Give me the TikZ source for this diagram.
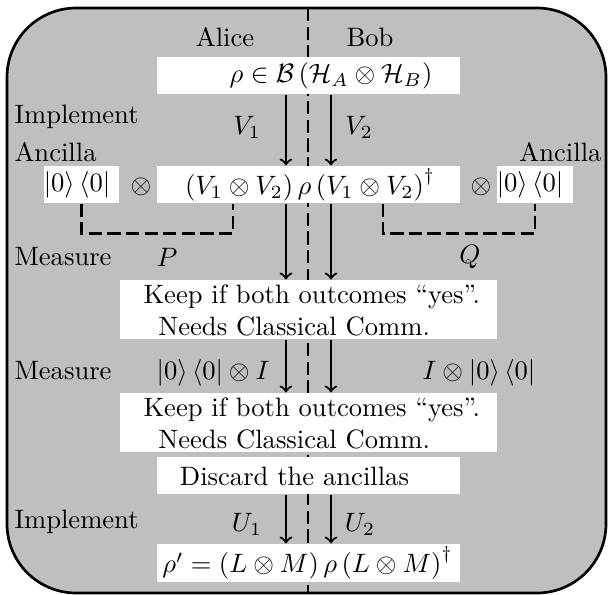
\documentclass[tikz,border=0pt]{standalone}
\def\pxu{0.376pt}
\tikzset{
  whitebox/.style={fill=white, draw=none, inner sep=0pt},
  lbl/.style={inner sep=0pt},
  arr/.style={->, line width=0.8pt},
  dsh/.style={line width=0.8pt, dash pattern=on 5pt off 2pt},
}
\newcommand\ketbra{\left|0\right\rangle\left\langle 0\right|}
\begin{document}
\begin{tikzpicture}[x=\pxu, y=-\pxu]
\useasboundingbox (0,0) rectangle (608,595);
% frame
\draw[fill=black!25, line width=1pt, rounded corners=26pt] (7,8) rectangle (606,593);
% coordinates
\coordinate (top) at (308,8);
\coordinate (bot) at (308,593);
\coordinate (la) at (286,0);
\coordinate (ra) at (331,0);
\coordinate (lb) at (233,0);
\coordinate (rb) at (383,0);
% divider
\draw[dsh] (top) -- (bot);
% boxes
\node[whitebox, minimum width=303*\pxu, minimum height=37*\pxu] (b1) at (308.5,75.5) {};
\node[whitebox, minimum width=303*\pxu, minimum height=37*\pxu] (b2) at (308.5,184.5) {};
\node[whitebox, minimum width=75*\pxu, minimum height=37*\pxu] (a1) at (81.5,184.5) {};
\node[whitebox, minimum width=76*\pxu, minimum height=37*\pxu] (a2) at (535,184.5) {};
\node[whitebox, minimum width=377*\pxu, minimum height=59*\pxu] (b3) at (308.5,309.5) {};
\node[whitebox, minimum width=377*\pxu, minimum height=59*\pxu] (b4) at (308.5,422.5) {};
\node[whitebox, minimum width=303*\pxu, minimum height=37*\pxu] (b5) at (308.5,475.5) {};
\node[whitebox, minimum width=303*\pxu, minimum height=38*\pxu] (b6) at (308.5,563) {};
% texts
\node[lbl] (alice) at (225,37) {Alice};
\node[lbl] (bob) at (370,37) {Bob};
\node[lbl] (t1) at (331,76) {$\rho\in\mathcal{B}\left(\mathcal{H}_A\otimes\mathcal{H}_B\right)$};
\node[lbl] (v1) at (247,127) {$V_1$};
\node[lbl] (v2) at (359,127) {$V_2$};
\node[lbl, anchor=west] (impl1) at (14,117) {Implement};
\node[lbl, anchor=west] (anc1) at (14,152) {Ancilla};
\node[lbl, anchor=east] (anc2) at (602,152) {Ancilla};
\node[lbl] (ta1) at (77,185) {$\ketbra$};
\node[lbl] (ta2) at (530,185) {$\ketbra$};
\node[lbl] (ot1) at (141,187) {$\otimes$};
\node[lbl] (ot2) at (481,187) {$\otimes$};
\node[lbl] (t2) at (310,185) {$\left(V_1\otimes V_2\right)\rho\left(V_1\otimes V_2\right)^\dagger$};
\node[lbl, anchor=west] (meas1) at (14,257) {Measure};
\node[lbl] (p) at (167,257) {$P$};
\node[lbl] (q) at (470,257) {$Q$};
\node[lbl, anchor=west, align=left] (t3) at (143,310) {Keep if both outcomes “yes”.\\\hspace*{5.6pt}Needs Classical Comm.};
\node[lbl, anchor=west] (meas2) at (14,371) {Measure};
\node[lbl] (m1) at (213,373) {$\ketbra\otimes I$};
\node[lbl] (m2) at (479,373) {$I\otimes\ketbra$};
\node[lbl, anchor=west, align=left] (t4) at (143,423) {Keep if both outcomes “yes”.\\\hspace*{5.6pt}Needs Classical Comm.};
\node[lbl] (t5) at (294.5,476) {Discard the ancillas};
\node[lbl, anchor=west] (impl2) at (14,522) {Implement};
\node[lbl] (u1) at (247,524) {$U_1$};
\node[lbl] (u2) at (360,524) {$U_2$};
\node[lbl] (t6) at (307.5,563) {$\rho'=\left(L\otimes M\right)\rho\left(L\otimes M\right)^\dagger$};
% arrows
\draw[arr] (b1.south -| la) -- (b2.north -| la);
\draw[arr] (b1.south -| ra) -- (b2.north -| ra);
\draw[arr] (b2.south -| la) -- (b3.north -| la);
\draw[arr] (b2.south -| ra) -- (b3.north -| ra);
\draw[arr] (b3.south -| la) -- (b4.north -| la);
\draw[arr] (b3.south -| ra) -- (b4.north -| ra);
\draw[arr] (b5.south -| la) -- (b6.north -| la);
\draw[arr] (b5.south -| ra) -- (b6.north -| ra);
% brackets
\draw[dsh] (a1.south) -- ++(0,30) -| (b2.south -| lb);
\draw[dsh] (b2.south -| rb) -- ++(0,30) -| (a2.south);
\end{tikzpicture}
\end{document}
